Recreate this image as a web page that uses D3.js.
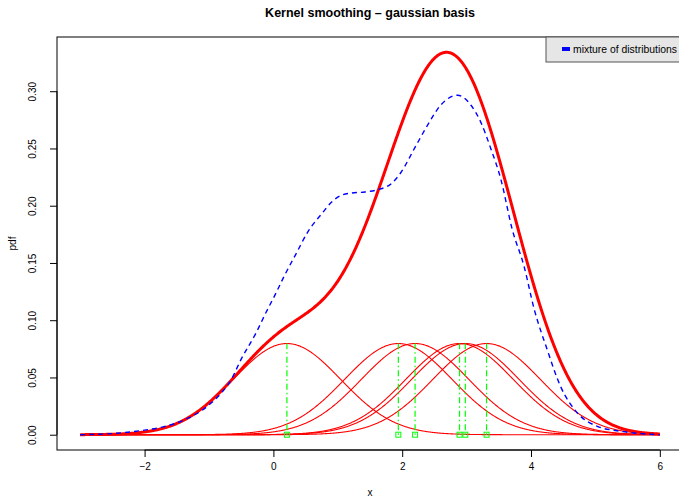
<!DOCTYPE html>
<html>
<head>
<meta charset="utf-8">
<script src="https://cdn.jsdelivr.net/npm/d3@7"></script>
<style>
  body { margin: 0; background: #fff; }
  text { font-family: "Liberation Sans", Arial, sans-serif; }
</style>
</head>
<body>
<div id="container"></div>
<script>
// sample points (green squares)
var samples = [0.21, 1.94, 2.20, 2.89, 2.98, 3.31];
var bandwidth = 0.835;
var gridFrom = -3, gridTo = 6;

// "mixture of distributions" curve
var mixX = [-3.0, -2.5, -2.0, -1.7, -1.38, -1.02, -0.8, -0.656, -0.5, -0.268, -0.113, 0.016, 0.172, 0.352, 0.533, 0.766, 0.9, 1.05, 1.205, 1.42, 1.62, 1.825, 1.98, 2.19, 2.39, 2.6, 2.86, 3.065, 3.22, 3.375, 3.53, 3.71, 3.89, 4.05, 4.25, 4.46, 4.72, 5.03, 5.39, 5.7, 6.0];
var mixY = [0.000, 0.001, 0.004, 0.007, 0.013, 0.025, 0.037, 0.048, 0.066, 0.089, 0.107, 0.121, 0.139, 0.158, 0.177, 0.194, 0.203, 0.209, 0.211, 0.212, 0.214, 0.219, 0.229, 0.250, 0.270, 0.288, 0.2965, 0.288, 0.273, 0.250, 0.2235, 0.179, 0.1475, 0.1095, 0.0745, 0.042, 0.019, 0.0073, 0.003, 0.001, 0.000];

var xTicks = [-2, 0, 2, 4, 6];
var yTicks = [0, 0.05, 0.10, 0.15, 0.20, 0.25, 0.30];

var width = 679, height = 499;
var margin = { left: 57, right: -4, top: 37, bottom: 49 };

var svg = d3.select("#container").append("svg")
    .attr("width", width)
    .attr("height", height);

// kernels on a grid
var grid = d3.range(gridFrom, gridTo + 0.0001, 0.01);
var n = samples.length;
function kern(x, m) {
    var z = (x - m) / bandwidth;
    return Math.exp(-0.5 * z * z) / (n * bandwidth * Math.sqrt(2 * Math.PI));
}
var kernels = samples.map(function (m) {
    return grid.map(function (x) { return [x, kern(x, m)]; });
});
var kde = grid.map(function (x, i) {
    return [x, d3.sum(kernels, function (k) { return k[i][1]; })];
});
var mix = mixX.map(function (x, i) { return [x, mixY[i]]; });

// R-style 4% extension of the ranges
var ymax = d3.max(kde, function (d) { return d[1]; });
var dx = (gridTo - gridFrom) * 0.04, dy = ymax * 0.04;

var x = d3.scaleLinear()
    .domain([gridFrom - dx, gridTo + dx])
    .range([margin.left, width - margin.right]);
var y = d3.scaleLinear()
    .domain([-dy, ymax + dy])
    .range([height - margin.bottom, margin.top]);

var line = d3.line()
    .x(function (d) { return x(d[0]); })
    .y(function (d) { return y(d[1]); });

// kde (thick red)
svg.append("path")
    .datum(kde)
    .attr("d", line)
    .attr("fill", "none")
    .attr("stroke", "#ff0000")
    .attr("stroke-width", 3);

// individual kernels
svg.selectAll(".kernel")
    .data(kernels)
    .enter().append("path")
    .attr("class", "kernel")
    .attr("d", line)
    .attr("fill", "none")
    .attr("stroke", "#ff0000")
    .attr("stroke-width", 1.1);

// mixture curve
svg.append("path")
    .datum(mix)
    .attr("d", line.curve(d3.curveMonotoneX))
    .attr("fill", "none")
    .attr("stroke", "#0000ff")
    .attr("stroke-width", 1.4)
    .attr("stroke-dasharray", "5,4");

// green segments + squares
var peak = 1 / (n * bandwidth * Math.sqrt(2 * Math.PI));
svg.selectAll(".seg")
    .data(samples)
    .enter().append("line")
    .attr("x1", function (d) { return x(d); })
    .attr("x2", function (d) { return x(d); })
    .attr("y1", y(0))
    .attr("y2", y(peak))
    .attr("stroke", "#00ff00")
    .attr("stroke-width", 1.2)
    .attr("stroke-dasharray", "1.5,3,6,3");

svg.selectAll(".pt")
    .data(samples)
    .enter().append("rect")
    .attr("x", function (d) { return x(d) - 2.5; })
    .attr("y", y(0) - 2.5)
    .attr("width", 5)
    .attr("height", 5)
    .attr("fill", "none")
    .attr("stroke", "#00ff00")
    .attr("stroke-width", 1);

// box
svg.append("rect")
    .attr("x", x.range()[0])
    .attr("y", margin.top)
    .attr("width", x.range()[1] - x.range()[0])
    .attr("height", y.range()[0] - margin.top)
    .attr("fill", "none")
    .attr("stroke", "#000")
    .attr("stroke-width", 1);

// axes
var xAxis = svg.append("g")
    .attr("transform", "translate(0," + y.range()[0] + ")")
    .call(d3.axisBottom(x).tickValues(xTicks).tickSize(7).tickPadding(6)
        .tickFormat(function (d) { return d < 0 ? "\u2212" + Math.abs(d) : d; }));
xAxis.select(".domain").attr("d", "M" + x(xTicks[0]) + ",0H" + x(xTicks[xTicks.length - 1]));

var yAxis = svg.append("g")
    .attr("transform", "translate(" + margin.left + ",0)")
    .call(d3.axisLeft(y).tickValues(yTicks).tickSize(7).tickFormat(d3.format(".2f")));
yAxis.select(".domain").attr("d", "M0," + y(yTicks[0]) + "V" + y(yTicks[yTicks.length - 1]));
yAxis.selectAll(".tick text")
    .attr("transform", "rotate(-90)")
    .attr("x", 0)
    .attr("y", -21)
    .attr("text-anchor", "middle")
    .attr("dy", "0");

svg.selectAll(".tick text")
    .attr("font-family", "Liberation Sans, Arial, sans-serif")
    .attr("font-size", 10)
    .attr("fill", "#000");
svg.selectAll(".tick line").attr("stroke", "#000");
svg.selectAll(".domain").attr("stroke", "#000");

// labels
var cx = (x.range()[0] + x.range()[1]) / 2;
svg.append("text")
    .text("Kernel smoothing \u2013 gaussian basis")
    .attr("x", cx)
    .attr("y", 17)
    .attr("text-anchor", "middle")
    .attr("font-size", 12.5)
    .attr("font-weight", "bold");

svg.append("text")
    .text("x")
    .attr("x", cx)
    .attr("y", 496)
    .attr("text-anchor", "middle")
    .attr("font-size", 10);

svg.append("text")
    .text("pdf")
    .attr("transform", "translate(16," + ((margin.top + y.range()[0]) / 2) + ") rotate(-90)")
    .attr("text-anchor", "middle")
    .attr("font-size", 10);

// legend
var legend = svg.append("g")
    .attr("transform", "translate(546," + margin.top + ")");
legend.append("rect")
    .attr("x", 0).attr("y", 0)
    .attr("width", 140).attr("height", 25)
    .attr("fill", "#e6e6e6")
    .attr("stroke", "#555")
    .attr("stroke-width", 1);
legend.append("rect")
    .attr("x", 16).attr("y", 10)
    .attr("width", 8).attr("height", 4)
    .attr("fill", "#0000ff");
legend.append("text")
    .text("mixture of distributions")
    .attr("x", 27)
    .attr("y", 16)
    .attr("font-size", 10.4);
</script>
</body>
</html>
